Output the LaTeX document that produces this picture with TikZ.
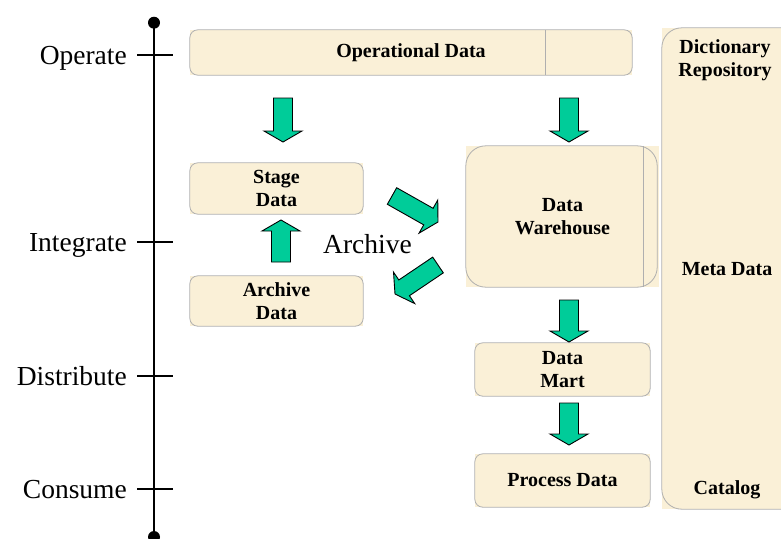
\documentclass[tikz,border=0pt]{standalone}
\usepackage{fontspec}
\setmainfont{Liberation Serif}[BoldFont={Liberation Serif Bold}]
\usetikzlibrary{calc}
\definecolor{boxfill}{RGB}{250,240,215}
\definecolor{boxline}{RGB}{175,175,175}
\definecolor{arrowgreen}{RGB}{0,204,153}
\tikzset{
  databox/.style={fill=boxfill, inner sep=0pt, align=center,
    font=\bfseries\fontsize{20}{23}\selectfont},
  boxframe/.style={draw=boxline, line width=0.8pt, rounded corners=#1},
  boxframe/.default=8pt,
  divider/.style={draw=boxline, line width=0.6pt},
  fatarrow/.style={draw=black, line width=0.9pt, fill=arrowgreen, line join=miter},
  phaselabel/.style={anchor=base east, inner sep=0pt, font=\fontsize{27.5}{32}\selectfont},
  metatext/.style={align=center, inner sep=0pt, font=\bfseries\fontsize{20}{23.5}\selectfont}
}
% block arrow from #1 (tail) to #2 (tip)
\newcommand\fatarrow[2]{%
  \draw[fatarrow] let \p1=($(#2)-(#1)$), \n1={atan2(\y1,\x1)}, \n2={veclen(\x1,\y1)} in
    [shift={(#1)}, rotate=\n1]
    (0pt,-9.5pt) -- (\n2-11pt,-9.5pt) -- (\n2-11pt,-19pt) -- (\n2+0pt,0pt)
    -- (\n2-11pt,19pt) -- (\n2-11pt,9.5pt) -- (0pt,9.5pt) -- cycle;}
\begin{document}
\begin{tikzpicture}[x=1pt,y=-1pt]
  \useasboundingbox (0,0) rectangle (781,538);
  \clip (0,0) rectangle (781,538);
  % time line
  \coordinate (ttop) at (154,22.7);
  \coordinate (tbot) at (154,537);
  \draw[line width=1.2pt] (ttop) -- (tbot);
  \fill (ttop) circle (6pt);
  \fill (tbot) circle (6pt);
  \foreach \y/\pname in {55/Operate,242/Integrate,376/Distribute,489/Consume}{
    \coordinate (tick-\pname) at (137,\y);
    \draw[line width=1.2pt] (tick-\pname) -- ++(36,0);
    \node[phaselabel] (lbl-\pname) at (127,\y+9.5) {\pname};
  }
  % boxes
  \node[databox, minimum width=442pt, minimum height=45pt] (opdata) at (411,52.5) {Operational Data};
  \node[databox, minimum width=173pt, minimum height=51pt] (stage) at (276.5,188.5) {Stage\\Data};
  \node[databox, minimum width=173pt, minimum height=50pt] (archv) at (276.5,301) {Archive\\Data};
  \node[databox, minimum width=193pt, minimum height=141pt] (dwh) at (562.5,216.5) {Data\\Warehouse};
  \node[databox, minimum width=175pt, minimum height=53pt] (mart) at (562.5,369.5) {Data\\Mart};
  \node[databox, minimum width=175pt, minimum height=53pt] (proc) at (562.5,480.5) {Process Data};
  \node[databox, minimum width=150pt, minimum height=481pt] (meta) at (737,268.5) {};
  \foreach \b in {opdata,stage,archv,mart,proc}
    \draw[boxframe] (\b.north west) rectangle (\b.south east);
  \draw[boxframe=20pt] (dwh.north west) rectangle ([xshift=-2pt]dwh.south east);
  \draw[boxframe=20pt] (meta.north west) rectangle (meta.south east);
  \draw[divider] ([xshift=134pt]opdata.north) -- ([xshift=134pt]opdata.south);
  \draw[divider] ([xshift=80.5pt]dwh.north) -- ([xshift=80.5pt]dwh.south);
  % meta data column
  \node[metatext] (dict) at (725,60) {Dictionary\\Repository};
  \node[metatext] (mdata) at (727,269) {Meta Data};
  \node[metatext] (catlg) at (727,490) {Catalog};
  \node[phaselabel, anchor=base west] (arch) at (323,253) {Archive};
  % arrows
  \coordinate (a1s) at (283,98);  \coordinate (a1e) at (283,142);
  \coordinate (a2s) at (569,98);  \coordinate (a2e) at (569,142);
  \coordinate (a3s) at (392,196); \coordinate (a3e) at (438,222);
  \coordinate (a4s) at (438,265); \coordinate (a4e) at (395,294);
  \coordinate (a5s) at (281,262); \coordinate (a5e) at (281,220);
  \coordinate (a6s) at (569,300); \coordinate (a6e) at (569,342);
  \coordinate (a7s) at (569,403); \coordinate (a7e) at (569,445);
  \foreach \i in {1,...,7}
    \fatarrow{a\i s}{a\i e};
\end{tikzpicture}
\end{document}
